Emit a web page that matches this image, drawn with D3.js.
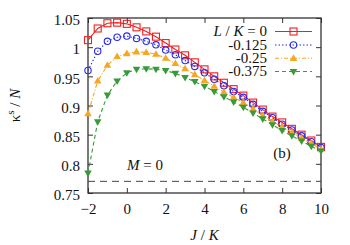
<!DOCTYPE html>
<html>
<head>
<meta charset="utf-8">
<script src="https://cdn.jsdelivr.net/npm/d3@7/dist/d3.min.js"></script>
<style>
  body { margin: 0; background: #fff; }
  text { font-family: "Liberation Serif", "DejaVu Serif", serif; fill: #111; }
</style>
</head>
<body>
<div id="chart"></div>
<script>
// J/K sample points
const jk = [-2, -1.5, -1, -0.5, 0, 0.5, 1, 1.5, 2, 2.5, 3, 3.5, 4, 4.5, 5, 5.5, 6, 6.5, 7, 7.5, 8, 8.5, 9, 9.5, 10];

// kappa^s / N for each L/K
const lk0 = [1.012, 1.032, 1.041, 1.042, 1.040, 1.034, 1.027, 1.018, 1.007, 0.996, 0.986, 0.974, 0.962,
             0.950, 0.939, 0.928, 0.917, 0.905, 0.893, 0.881, 0.871, 0.860, 0.850, 0.840, 0.829];
const lk125 = [0.960, 0.993, 1.010, 1.017, 1.019, 1.015, 1.010, 1.004, 0.995, 0.987, 0.977, 0.967, 0.956,
               0.945, 0.934, 0.924, 0.914, 0.902, 0.890, 0.879, 0.868, 0.858, 0.848, 0.838, 0.828];
const lk25 = [0.886, 0.942, 0.969, 0.984, 0.989, 0.992, 0.991, 0.988, 0.981, 0.972, 0.963, 0.953, 0.943,
              0.933, 0.923, 0.914, 0.905, 0.894, 0.883, 0.873, 0.863, 0.854, 0.844, 0.835, 0.825];
const lk375 = [0.784, 0.872, 0.918, 0.942, 0.956, 0.962, 0.963, 0.962, 0.960, 0.955, 0.948, 0.941, 0.933,
               0.924, 0.915, 0.906, 0.897, 0.887, 0.877, 0.867, 0.857, 0.848, 0.839, 0.830, 0.822];

const seriesLabels = ["0", "-0.125", "-0.25", "-0.375"];
const mZero = 0.77;

const xTicks = [-2, 0, 2, 4, 6, 8, 10];
const yTicks = [0.75, 0.8, 0.85, 0.9, 0.95, 1, 1.05];

const W = 350, H = 245;
const m = {left: 88, right: 29, top: 18, bottom: 52};

const svg = d3.select("#chart").append("svg")
    .attr("width", W).attr("height", H);

const x = d3.scaleLinear().domain([-2, 10]).range([m.left, W - m.right]);
const y = d3.scaleLinear().domain([0.75, 1.05]).range([H - m.bottom, m.top]);

const series = [
  {vals: lk0,   color: "#f02020", dash: null,      marker: "square"},
  {vals: lk125, color: "#2a2aee", dash: "1.5,2",   marker: "circle"},
  {vals: lk25,  color: "#f5a623", dash: "4,2,1,2", marker: "up"},
  {vals: lk375, color: "#3a9a3a", dash: "4,3",     marker: "down"}
];

// axes: ticks pointing inward on all four sides
const tl = 5;
svg.append("g").attr("transform", `translate(0,${H - m.bottom})`)
  .call(d3.axisBottom(x).tickValues(xTicks).tickSizeInner(-tl).tickSizeOuter(0).tickPadding(10).tickFormat(d3.format("d")));
svg.append("g").attr("transform", `translate(0,${m.top})`)
  .call(d3.axisTop(x).tickValues(xTicks).tickSizeInner(-tl).tickSizeOuter(0).tickFormat(""));
const yAx = svg.append("g").attr("transform", `translate(${m.left},0)`)
  .call(d3.axisLeft(y).tickValues(yTicks).tickSizeInner(-tl).tickSizeOuter(0).tickPadding(8).tickFormat(d => d3.format("")(+d.toFixed(2))));
yAx.selectAll(".tick text").attr("dy", "0.45em");
svg.append("g").attr("transform", `translate(${W - m.right},0)`)
  .call(d3.axisRight(y).tickValues(yTicks).tickSizeInner(-tl).tickSizeOuter(0).tickFormat(""));

svg.selectAll(".domain").remove();
svg.selectAll(".tick line").attr("stroke", "#333");
svg.selectAll(".tick text").style("font-size", "15px").style("font-family", "Liberation Serif, serif").attr("fill", "#111");

svg.append("rect")
  .attr("x", m.left).attr("y", m.top)
  .attr("width", W - m.left - m.right).attr("height", H - m.top - m.bottom)
  .attr("fill", "none").attr("stroke", "#333").attr("stroke-width", 1.3);

// M = 0 reference line
svg.append("line")
  .attr("x1", x(-2)).attr("x2", x(10))
  .attr("y1", y(mZero)).attr("y2", y(mZero))
  .attr("stroke", "#444").attr("stroke-dasharray", "7,5");

const line = d3.line().x((d, i) => x(jk[i])).y(d => y(d));

function drawMarker(g, type, color, cx, cy) {
  if (type === "square") {
    g.append("rect").attr("x", cx - 3.5).attr("y", cy - 3.5).attr("width", 7).attr("height", 7)
      .attr("fill", "none").attr("stroke", color).attr("stroke-width", 1.1);
  } else if (type === "circle") {
    g.append("circle").attr("cx", cx).attr("cy", cy).attr("r", 3.2)
      .attr("fill", "none").attr("stroke", color).attr("stroke-width", 1.1);
  } else {
    const s = type === "up" ? 1 : -1;
    const pts = [[cx, cy - 4 * s], [cx - 3.8, cy + 2.6 * s], [cx + 3.8, cy + 2.6 * s]];
    g.append("path").attr("d", "M" + pts.join("L") + "Z").attr("fill", color).attr("stroke", "none");
  }
}

series.forEach(s => {
  svg.append("path").datum(s.vals)
    .attr("d", line).attr("fill", "none")
    .attr("stroke", s.color).attr("stroke-width", 1.1)
    .attr("stroke-dasharray", s.dash);
  const g = svg.append("g");
  s.vals.forEach((v, i) => drawMarker(g, s.marker, s.color, x(jk[i]), y(v)));
});

// legend
const lgX = 267, lgY = [31.5, 45, 58.3, 71.5];
series.forEach((s, i) => {
  const t = svg.append("text").attr("x", lgX).attr("y", lgY[i] + 4.5)
    .attr("text-anchor", "end").style("font-size", "15px");
  if (i === 0) {
    t.append("tspan").style("font-style", "italic").text("L");
    t.append("tspan").text(" / ");
    t.append("tspan").style("font-style", "italic").text("K");
    t.append("tspan").text(" = " + seriesLabels[0]);
  } else {
    t.text(seriesLabels[i]);
  }
  svg.append("line").attr("x1", 275).attr("x2", 312).attr("y1", lgY[i]).attr("y2", lgY[i])
    .attr("stroke", s.color).attr("stroke-width", 1.1).attr("stroke-dasharray", s.dash);
  drawMarker(svg, s.marker, s.color, 293.5, lgY[i]);
});

// annotations
const mt = svg.append("text").attr("x", 145).attr("y", 170).attr("text-anchor", "middle").style("font-size", "15px");
mt.append("tspan").style("font-style", "italic").text("M");
mt.append("tspan").text(" = 0");

svg.append("text").attr("x", 282).attr("y", 158).attr("text-anchor", "middle")
  .style("font-size", "15px").text("(b)");

// axis titles
const xt = svg.append("text").attr("x", (m.left + W - m.right) / 2).attr("y", 239.5)
  .attr("text-anchor", "middle").style("font-size", "15px");
xt.append("tspan").style("font-style", "italic").text("J");
xt.append("tspan").text(" / ");
xt.append("tspan").style("font-style", "italic").text("K");

const yt = svg.append("text").attr("transform", `translate(20,${(m.top + H - m.bottom) / 2}) rotate(-90)`)
  .attr("text-anchor", "middle").style("font-size", "15px");
yt.append("tspan").text("κ");
yt.append("tspan").attr("dy", -6).style("font-size", "11px").text("s");
yt.append("tspan").attr("dy", 6).text(" / ");
yt.append("tspan").style("font-style", "italic").text("N");
</script>
</body>
</html>
